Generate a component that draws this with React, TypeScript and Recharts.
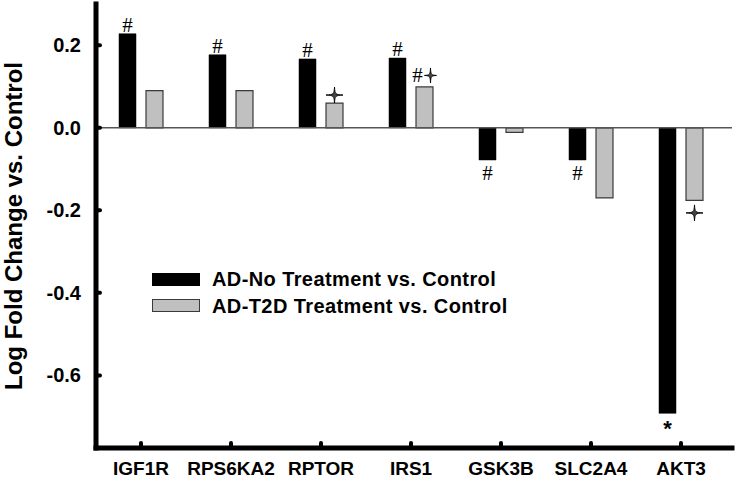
import { BarChart, Bar, XAxis, YAxis, ReferenceLine, Legend, LabelList, Label } from 'recharts'

const GENES = ['IGF1R', 'RPS6KA2', 'RPTOR', 'IRS1', 'GSK3B', 'SLC2A4', 'AKT3']
const AD_NO_TREATMENT = [0.228, 0.177, 0.167, 0.169, -0.078, -0.078, -0.692]
const AD_T2D_TREATMENT = [0.09, 0.09, 0.06, 0.099, -0.011, -0.17, -0.176]
// '#' / '*' are text marks, '+' stands for the four-point star
const NO_TX_MARKS = ['#', '#', '#', '#', '#', '#', '*']
const T2D_MARKS = ['', '', '+', '#+', '', '', '+']
const SERIES_NAMES = ['AD-No Treatment vs. Control', 'AD-T2D Treatment vs. Control']
const Y_TICKS = [0.2, 0, -0.2, -0.4, -0.6]
const Y_DOMAIN = [-0.776, 0.3]
const Y_TITLE = 'Log Fold Change vs. Control'

const SANS = "'Liberation Sans', Arial, Helvetica, sans-serif"
const SERIF = "'Liberation Serif', 'Times New Roman', serif"
const GRAY_FILL = '#c0c0c0'
const GRAY_STROKE = '#3a3a3a'

const chartData = GENES.map((gene, i) => ({
  gene,
  noTx: AD_NO_TREATMENT[i],
  t2d: AD_T2D_TREATMENT[i],
}))

function YTick({ x, y, payload }: any) {
  return (
    <g>
      <line x1={x} x2={x + 4} y1={y} y2={y} stroke="#000" strokeWidth={4} strokeLinecap="round" />
      <text x={x - 15} y={y} dy={7} textAnchor="end" fontFamily={SANS} fontWeight="bold" fontSize={20} fill="#000">
        {Number(payload.value).toFixed(1)}
      </text>
    </g>
  )
}

function XTick({ x, y, payload }: any) {
  return (
    <g>
      <line x1={x} x2={x} y1={y} y2={y - 5} stroke="#000" strokeWidth={4} strokeLinecap="round" />
      <text x={x} y={y + 27} textAnchor="middle" fontFamily={SANS} fontWeight="bold" fontSize={19} fill="#000">
        {payload.value}
      </text>
    </g>
  )
}

// four-point star with slim, tapering arms
function Sparkle({ cx, cy, rx, ry }: { cx: number; cy: number; rx: number; ry: number }) {
  const k = 0.07
  const q = (sx: number, sy: number) => `${cx + sx * k * rx},${cy + sy * k * ry}`
  const d =
    `M${cx},${cy - ry} C${q(1, -1)} ${q(1, -1)} ${cx + rx},${cy} ` +
    `C${q(1, 1)} ${q(1, 1)} ${cx},${cy + ry} ` +
    `C${q(-1, 1)} ${q(-1, 1)} ${cx - rx},${cy} ` +
    `C${q(-1, -1)} ${q(-1, -1)} ${cx},${cy - ry}Z`
  return <path d={d} fill="#444" stroke="#000" strokeWidth={0.9} strokeLinejoin="round" />
}

function makeMarks(values: number[], marks: string[]) {
  return (props: any) => {
    const index = props.index
    const mark = marks[index]
    if (!mark) return null
    const vb = props.viewBox ?? props
    const { x, y, width, height } = vb
    const cx = x + width / 2
    const top = Math.min(y, y + height)
    const bottom = Math.max(y, y + height)
    const up = values[index] >= 0

    if (mark === '#') {
      return (
        <text x={cx} y={up ? top - 2 : bottom + 20} textAnchor="middle" fontFamily={SERIF} fontSize={21} fill="#000">
          #
        </text>
      )
    }
    if (mark === '*') {
      return (
        <text x={cx} y={bottom + 23} textAnchor="middle" fontFamily={SANS} fontWeight="bold" fontSize={22} fill="#000">
          *
        </text>
      )
    }
    if (mark === '+') {
      return <Sparkle cx={cx} cy={up ? top - 8 : bottom + 12.5} rx={8.5} ry={8} />
    }
    // '#+' : hash followed by star
    return (
      <g>
        <text x={cx - 7} y={top - 5} textAnchor="middle" fontFamily={SERIF} fontSize={21} fill="#000">
          #
        </text>
        <Sparkle cx={cx + 6} cy={top - 11.5} rx={6} ry={7.5} />
      </g>
    )
  }
}

function LegendBox({ payload }: any) {
  return (
    <div>
      {(payload ?? []).map((entry: any) => {
        const fill = entry.color ?? entry.payload?.fill
        const stroke = entry.payload?.stroke ?? fill
        return (
          <div key={entry.value} style={{ display: 'flex', alignItems: 'center', height: 26.5 }}>
            <div
              style={{
                width: 48,
                height: 13,
                boxSizing: 'border-box',
                background: fill,
                border: `1.2px solid ${stroke}`,
              }}
            />
            <span
              style={{
                marginLeft: 12,
                fontFamily: SANS,
                fontWeight: 'bold',
                fontSize: 20,
                letterSpacing: 0.4,
                lineHeight: 1,
                color: '#000',
                whiteSpace: 'nowrap',
              }}
            >
              {entry.value}
            </span>
          </div>
        )
      })}
    </div>
  )
}

export default function App() {
  return (
    <div style={{ position: 'absolute', left: 0, top: 0, background: '#fff' }}>
      <BarChart
        width={736}
        height={479}
        data={chartData}
        margin={{ top: 4, right: 4, bottom: 0, left: 0 }}
        barSize={17}
        barGap={10}
      >
        <XAxis
          dataKey="gene"
          height={31}
          padding={{ left: 0, right: 6 }}
          axisLine={{ stroke: '#000', strokeWidth: 5, strokeLinecap: 'square' }}
          tickLine={false}
          tickSize={0}
          tickMargin={0}
          interval={0}
          tick={<XTick />}
        />
        <YAxis
          width={96}
          domain={Y_DOMAIN}
          ticks={Y_TICKS}
          allowDataOverflow
          axisLine={{ stroke: '#000', strokeWidth: 5, strokeLinecap: 'square' }}
          tickLine={false}
          tickSize={0}
          tickMargin={0}
          interval={0}
          tick={<YTick />}
        >
          <Label
            content={({ viewBox }: any) => {
              const cy = viewBox.y + viewBox.height / 2
              return (
                <text
                  x={22}
                  y={cy}
                  transform={`rotate(-90 22 ${cy})`}
                  textAnchor="middle"
                  fontFamily={SANS}
                  fontWeight="bold"
                  fontSize={24}
                  fill="#000"
                >
                  {Y_TITLE}
                </text>
              )
            }}
          />
        </YAxis>
        <ReferenceLine y={0} stroke="#555" strokeWidth={1.5} />
        <Legend
          layout="vertical"
          align="center"
          verticalAlign="middle"
          content={<LegendBox />}
          wrapperStyle={{ left: 152, top: 266, width: 'auto', height: 'auto' }}
        />
        <Bar dataKey="noTx" name={SERIES_NAMES[0]} fill="#000" stroke="#000" strokeWidth={0.5} isAnimationActive={false}>
          <LabelList dataKey="noTx" content={makeMarks(AD_NO_TREATMENT, NO_TX_MARKS)} />
        </Bar>
        <Bar dataKey="t2d" name={SERIES_NAMES[1]} fill={GRAY_FILL} stroke={GRAY_STROKE} strokeWidth={1.2} isAnimationActive={false}>
          <LabelList dataKey="t2d" content={makeMarks(AD_T2D_TREATMENT, T2D_MARKS)} />
        </Bar>
      </BarChart>
    </div>
  )
}
